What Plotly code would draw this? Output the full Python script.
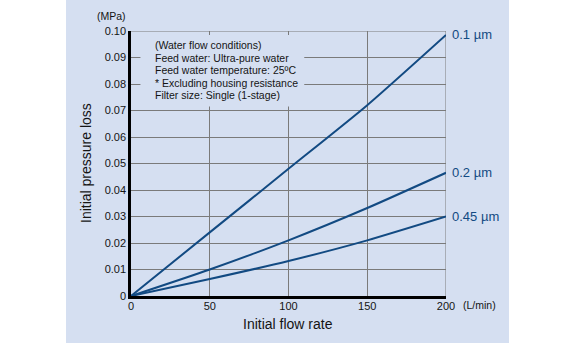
import plotly.graph_objects as go

flow = [0, 50, 100, 150, 200]
loss_01 = [0, 0.0240, 0.0480, 0.0720, 0.0985]
loss_02 = [0, 0.0100, 0.0210, 0.0332, 0.0465]
loss_045 = [0, 0.0064, 0.0132, 0.0210, 0.0300]
series_names = ["0.1 µm", "0.2 µm", "0.45 µm"]
y_ticks = [0, 0.01, 0.02, 0.03, 0.04, 0.05, 0.06, 0.07, 0.08, 0.09, 0.10]
y_tick_text = ["0", "0.01", "0.02", "0.03", "0.04", "0.05", "0.06", "0.07", "0.08", "0.09", "0.10"]
x_ticks = [0, 50, 100, 150, 200]
notes = ["(Water flow conditions)", "Feed water: Ultra-pure water",
         "Feed water temperature: 25ºC", "* Excluding housing resistance",
         "Filter size: Single (1-stage)"]

LINE = "#124a82"
BLUE_BG = "#d5dff1"
TXT = "#141414"
FONT = "Liberation Sans, Arial, sans-serif"

fig = go.Figure()
for ys, name in zip([loss_01, loss_02, loss_045], series_names):
    fig.add_trace(go.Scatter(x=flow, y=ys, mode="lines", name=name,
                             line=dict(color=LINE, width=2, shape="spline", smoothing=0.6),
                             showlegend=False, hoverinfo="skip"))
    fig.add_annotation(x=flow[-1], y=ys[-1], xref="x", yref="y", text=name,
                       showarrow=False, xanchor="left", yanchor="middle", xshift=4,
                       font=dict(family=FONT, size=13, color=LINE))

W, H = 576, 343
L, R, T, B = 131, 130, 31, 47
pw, ph = W - L - R, H - T - B

# blue panel background
fig.add_shape(type="rect", xref="paper", yref="paper", layer="below",
              x0=(66 - L) / pw, x1=(509 - L) / pw,
              y0=(H - B - H) / ph, y1=(H - B) / ph,
              fillcolor=BLUE_BG, line=dict(width=0))
# top and right border in gray
fig.add_shape(type="line", xref="x", yref="y", x0=0, x1=200, y0=0.10, y1=0.10,
              line=dict(color="#7a7a7a", width=1), layer="below")
fig.add_shape(type="line", xref="x", yref="y", x0=200, x1=200, y0=0, y1=0.10,
              line=dict(color="#7a7a7a", width=1), layer="below")
# notes box covering gridlines
fig.add_shape(type="rect", xref="x", yref="y", layer="above",
              x0=6, x1=110, y0=0.0715, y1=0.0985,
              fillcolor=BLUE_BG, line=dict(width=0))
for i, line in enumerate(notes):
    fig.add_annotation(xref="paper", yref="paper", x=(153 - L) / pw,
                       y=(H - B - (45 + i * 12.6)) / ph, text=line, showarrow=False,
                       xanchor="left", yanchor="middle",
                       font=dict(family=FONT, size=10.5, color=TXT))

# axis titles and units
fig.add_annotation(xref="paper", yref="paper", x=(288 - L) / pw, y=(H - B - 324) / ph,
                   text="Initial flow rate", showarrow=False, xanchor="center", yanchor="middle",
                   font=dict(family=FONT, size=14, color=TXT))
fig.add_annotation(xref="paper", yref="paper", x=(86 - L) / pw, y=(H - B - 163) / ph,
                   text="Initial pressure loss", showarrow=False, textangle=-90,
                   xanchor="center", yanchor="middle",
                   font=dict(family=FONT, size=14, color=TXT))
fig.add_annotation(xref="paper", yref="paper", x=(111 - L) / pw, y=(H - B - 16) / ph,
                   text="(MPa)", showarrow=False, xanchor="center", yanchor="middle",
                   font=dict(family=FONT, size=10.5, color=TXT))
fig.add_annotation(xref="paper", yref="paper", x=(461 - L) / pw, y=(H - B - 305) / ph,
                   text="(L/min)", showarrow=False, xanchor="left", yanchor="middle",
                   font=dict(family=FONT, size=10.5, color=TXT))

fig.update_xaxes(range=[0, 200], tickvals=x_ticks, ticks="", ticklabelstandoff=-2,
                 showgrid=True, gridcolor="#7a7a7a", gridwidth=1, zeroline=False,
                 showline=True, linecolor="black", linewidth=2.5,
                 tickfont=dict(family=FONT, size=11, color=TXT))
fig.update_yaxes(range=[0, 0.10], tickvals=y_ticks, ticktext=y_tick_text, ticks="",
                 showgrid=True, gridcolor="#7a7a7a", gridwidth=1, zeroline=False,
                 showline=True, linecolor="black", linewidth=2.5,
                 tickfont=dict(family=FONT, size=11, color=TXT))

fig.update_layout(width=W, height=H, margin=dict(l=L, r=R, t=T, b=B),
                  paper_bgcolor="white", plot_bgcolor="rgba(0,0,0,0)",
                  font=dict(family=FONT))
fig.write_html("out.html")
